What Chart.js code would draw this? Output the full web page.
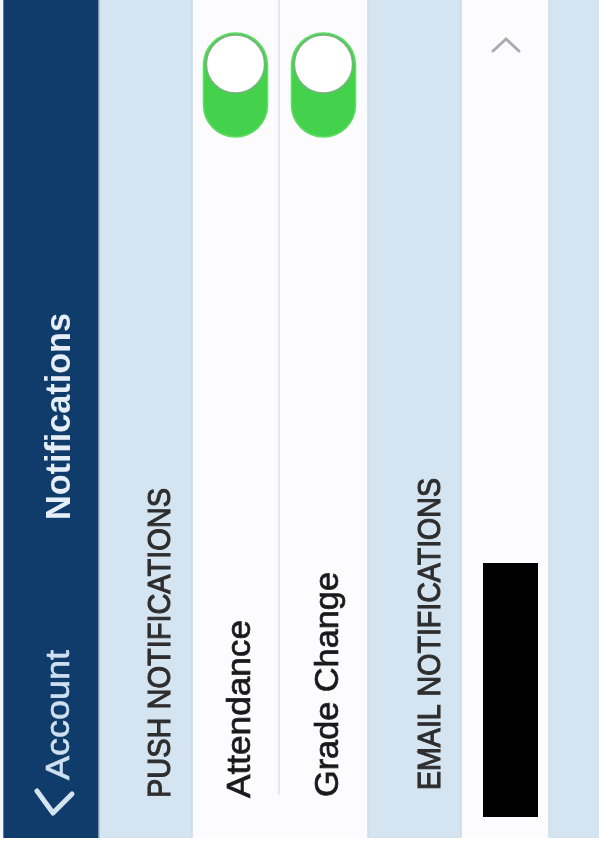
<!DOCTYPE html>
<html>
<head>
<meta charset="utf-8">
<script src="https://cdn.jsdelivr.net/npm/chart.js@4.4.1/dist/chart.umd.min.js"></script>
<style>
  html, body { margin: 0; padding: 0; background: #ffffff; }
  #wrap { width: 599px; height: 848px; }
</style>
</head>
<body>
<div id="wrap"><canvas id="myChart"></canvas></div>
<script>
// the screen is shown sideways: every row of the settings list is a vertical band
var bandNames = ["Edge", "Navigation", "Push header", "Attendance", "Grade Change", "Email header", "Email row", "Next"];
var bandWidths = [3, 96, 93, 87, 89, 93, 88, 50];
var bandLabels = ["", "Notifications", "PUSH NOTIFICATIONS", "Attendance", "Grade Change", "EMAIL NOTIFICATIONS", "", ""];
var switchStates = [null, null, null, true, true, null, null, null];
var backLabel = "Account";

var bandColors = ["#f4f7fa", "#0f3c6b", "#d4e5f1", "#fcfbfd", "#fcfbfd", "#d4e5f1", "#fcfbfd", "#d4e5f1"];

var total = bandWidths.reduce(function (a, b) { return a + b; }, 0);

// text written bottom-to-top, squeezed to the length seen in the picture
function sideText(ctx, text, x, y, font, color, len, weight) {
    ctx.save();
    ctx.translate(x, y);
    ctx.rotate(-Math.PI / 2);
    ctx.font = font;
    ctx.fillStyle = color;
    ctx.strokeStyle = color;
    ctx.textAlign = "left";
    ctx.textBaseline = "alphabetic";
    var w = ctx.measureText(text).width;
    if (len) ctx.scale(len / w, 1);
    ctx.fillText(text, 0, 0);
    if (weight) {
        ctx.lineWidth = weight;
        ctx.strokeText(text, 0, 0);
    }
    ctx.restore();
}

function pill(ctx, cx, top, w, h) {
    var r = w / 2;
    ctx.beginPath();
    ctx.arc(cx, top + r, r, Math.PI, 0);
    ctx.arc(cx, top + h - r, r, 0, Math.PI);
    ctx.closePath();
}

const screenPlugin = {
    id: "screen",
    afterDatasetsDraw(chart, args, opts) {
        const ctx = chart.ctx;
        const xs = chart.scales.x;
        const top = chart.chartArea.top;
        let start = 0;
        for (let i = 0; i < bandWidths.length; i++) {
            const x0 = xs.getPixelForValue(start);
            const x1 = xs.getPixelForValue(start + bandWidths[i]);
            const cx = (x0 + x1) / 2;

            // thin edge between light and white rows
            if (i > 1) {
                ctx.save();
                ctx.strokeStyle = (i == 4) ? "#dcdcdc" : "#c9d6e0";
                ctx.lineWidth = 1.2;
                ctx.beginPath();
                ctx.moveTo(x0, top);
                ctx.lineTo(x0, (i == 4) ? top + 795 : chart.chartArea.bottom);
                ctx.stroke();
                ctx.restore();
            }

            const lab = bandLabels[i];
            if (lab) {
                const s = opts.labels[lab];
                sideText(ctx, lab, cx + s.offset, top + s.start, s.font, s.color, s.length, s.weight);
            }

            if (switchStates[i]) {
                const t = opts.toggle;
                ctx.save();
                pill(ctx, cx, top + t.top, t.width, t.height);
                ctx.fillStyle = "#44d24c";
                ctx.fill();
                ctx.strokeStyle = "#5fdc66";
                ctx.lineWidth = 1.5;
                ctx.stroke();
                ctx.beginPath();
                ctx.arc(cx, top + t.top + t.width / 2 - 1, t.width / 2 - 3, 0, Math.PI * 2);
                ctx.fillStyle = "#ffffff";
                ctx.fill();
                ctx.strokeStyle = "#7fae83";
                ctx.lineWidth = 1.3;
                ctx.stroke();
                ctx.restore();
            }

            if (bandNames[i] == "Navigation") {
                sideText(ctx, backLabel, cx + 18, top + 780, "34px 'Liberation Sans'", "#cfe0f0", 130, 0.6);
                ctx.save();
                ctx.strokeStyle = "#d3e3f2";
                ctx.lineWidth = 5;
                ctx.lineCap = "round";
                ctx.lineJoin = "round";
                ctx.beginPath();
                ctx.moveTo(cx - 14, top + 791);
                ctx.lineTo(cx + 2, top + 813);
                ctx.lineTo(cx + 21, top + 794);
                ctx.stroke();
                ctx.restore();
            }

            if (bandNames[i] == "Email row") {
                // disclosure chevron
                ctx.save();
                ctx.strokeStyle = "#ababab";
                ctx.lineWidth = 3;
                ctx.lineCap = "round";
                ctx.beginPath();
                ctx.moveTo(cx - 12, top + 51);
                ctx.lineTo(cx + 1, top + 39);
                ctx.lineTo(cx + 14, top + 51);
                ctx.stroke();
                // blacked-out value
                ctx.fillStyle = "#000000";
                ctx.fillRect(x0 + 22, top + 563, 55, 254);
                ctx.restore();
            }
            start += bandWidths[i];
        }
    }
};

const datasets = bandNames.map(function (name, i) {
    return {
        label: name,
        data: [bandWidths[i]],
        backgroundColor: bandColors[i],
        borderWidth: 0,
        barPercentage: 1,
        categoryPercentage: 1,
        stack: "screen"
    };
});

const config = {
    type: "bar",
    data: { labels: ["screen"], datasets: datasets },
    options: {
        indexAxis: "y",
        responsive: true,
        maintainAspectRatio: false,
        animation: false,
        layout: { padding: { left: 0, right: 0, top: 0, bottom: 10 } },
        scales: {
            x: { stacked: true, display: false, min: 0, max: total },
            y: { stacked: true, display: false }
        },
        plugins: {
            legend: { display: false },
            tooltip: { enabled: false },
            screen: {
                toggle: { top: 33, width: 64, height: 104 },
                labels: {
                    "Notifications": { offset: 19, start: 520, font: "bold 35px 'Liberation Sans'", color: "#e6eff7", length: 207, weight: 0 },
                    "PUSH NOTIFICATIONS": { offset: 24, start: 798, font: "32px 'Liberation Sans'", color: "#2e2e2e", length: 310, weight: 1.1 },
                    "Attendance": { offset: 14, start: 798, font: "34px 'Liberation Sans'", color: "#1a1a1a", length: 178, weight: 0.7 },
                    "Grade Change": { offset: 14, start: 797, font: "34px 'Liberation Sans'", color: "#1a1a1a", length: 225, weight: 0.7 },
                    "EMAIL NOTIFICATIONS": { offset: 25, start: 790, font: "32px 'Liberation Sans'", color: "#2e2e2e", length: 312, weight: 1.1 }
                }
            }
        }
    },
    plugins: [screenPlugin]
};

var myChart = new Chart(document.getElementById("myChart"), config);
</script>
</body>
</html>
